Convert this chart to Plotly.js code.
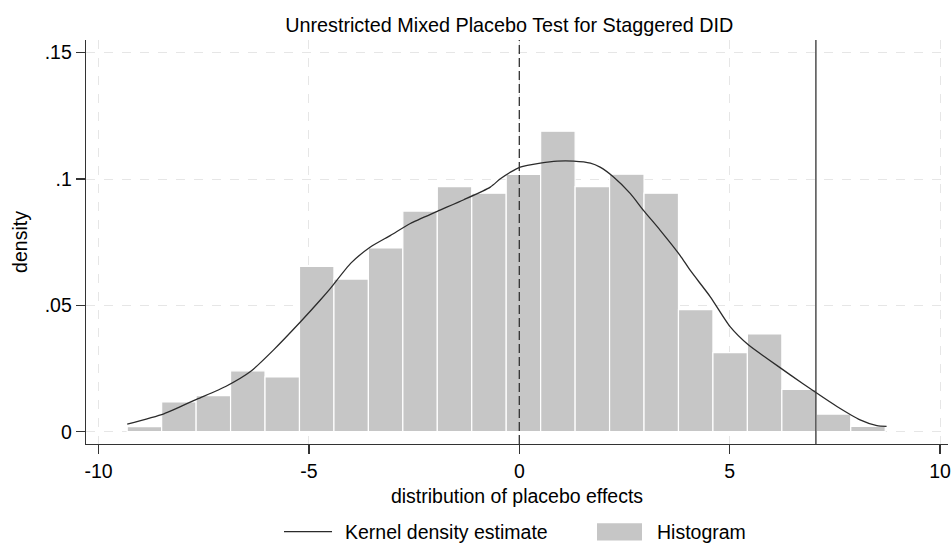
<!DOCTYPE html>
<html>
<head>
<meta charset="utf-8">
<script src="https://cdn.plot.ly/plotly-3.0.1.min.js"></script>
<style>html,body{margin:0;padding:0;background:#fff;}#chart{width:952px;height:546px;}</style>
</head>
<body>
<div id="chart"></div>
<script>
// Histogram bins (centers) and densities
const binCenters = [-8.911, -8.092, -7.273, -6.454, -5.635, -4.816, -3.997, -3.178, -2.359, -1.540, -0.721,
  0.098, 0.917, 1.736, 2.555, 3.374, 4.193, 5.012, 5.831, 6.650, 7.469, 8.288];
const binWidth = 0.819;
const histDensity = [0.0020, 0.0118, 0.0143, 0.0241, 0.0217, 0.0654, 0.0604, 0.0727, 0.0873, 0.0970, 0.0944,
  0.1018, 0.1189, 0.0970, 0.1019, 0.0944, 0.0483, 0.0313, 0.0387, 0.0167, 0.0070, 0.0021];

// Kernel density estimate
const kdeX = [-9.32, -8.45, -7.66, -6.98, -6.39, -5.84, -5.20, -4.73, -4.49, -4.01, -3.54, -3.06, -2.59, -1.95,
  -1.32, -0.69, -0.45, -0.21, 0.02, 0.50, 0.90, 1.29, 1.69, 1.92, 2.24, 2.64, 2.95, 3.35, 3.82, 4.06, 4.54,
  5.01, 5.45, 5.88, 6.44, 7.05, 7.55, 8.10, 8.50, 8.73];
const kdeY = [0.0030, 0.0071, 0.0129, 0.0179, 0.0238, 0.0324, 0.0435, 0.0521, 0.0567, 0.0666, 0.0731, 0.0777,
  0.0824, 0.0872, 0.0918, 0.0968, 0.1001, 0.1027, 0.1047, 0.1063, 0.1071, 0.1071, 0.1063, 0.1047, 0.1008,
  0.0942, 0.0876, 0.0797, 0.0698, 0.0639, 0.0534, 0.0416, 0.0343, 0.0291, 0.0225, 0.0155, 0.0100, 0.0047,
  0.0024, 0.0021];

// Reference lines
const zeroLine = 0;
const actualEffect = 7.05;

// Ticks and labels
const xTickVals = [-10, -5, 0, 5, 10];
const xTickText = ['-10', '-5', '0', '5', '10'];
const yTickVals = [0, 0.05, 0.1, 0.15];
const yTickText = ['0', '.05', '.1', '.15'];
const legendLabels = ['Kernel density estimate', 'Histogram'];

const FONT = 'Liberation Sans, Arial, sans-serif';
const FS = 19.5;
const AX = '#333333';
const BAR = '#c6c6c6';
const LINE = '#2b2b2b';

const traces = [
  {
    type: 'bar', x: binCenters, y: histDensity, width: binWidth,
    name: legendLabels[1], showlegend: false,
    marker: {color: BAR, line: {color: '#ffffff', width: 1.2}},
    hoverinfo: 'skip'
  },
  {
    type: 'scatter', mode: 'lines', x: kdeX, y: kdeY,
    name: legendLabels[0], showlegend: false,
    line: {color: LINE, width: 1.3, shape: 'spline', smoothing: 0.6},
    hoverinfo: 'skip'
  }
];

const LEG_Y = -0.217;

const layout = {
  width: 952, height: 546,
  margin: {l: 86, r: 4, t: 40, b: 102},
  paper_bgcolor: '#ffffff', plot_bgcolor: '#ffffff',
  font: {family: FONT, size: FS, color: '#000'},
  showlegend: false,
  title: {text: 'Unrestricted Mixed Placebo Test for Staggered DID', font: {family: FONT, size: 19.8, color: '#000'},
    x: 0.491, xref: 'paper', xanchor: 'center', y: 1 - 25/546, yref: 'container', yanchor: 'middle'},
  xaxis: {
    range: [-10.30, 10.19], tickvals: xTickVals, ticktext: xTickText, automargin: false,
    showline: true, linecolor: AX, linewidth: 1.3, mirror: false,
    ticks: 'outside', ticklen: 9, tickwidth: 1.3, tickcolor: AX,
    showgrid: true, gridcolor: '#e6e6e6', gridwidth: 1, griddash: 'dash', zeroline: false,
    tickfont: {family: FONT, size: FS, color: '#000'},
    title: {text: 'distribution of placebo effects', font: {family: FONT, size: FS, color: '#000'}, standoff: 8}
  },
  yaxis: {
    range: [-0.00486, 0.155], tickvals: yTickVals, ticktext: yTickText, automargin: false,
    showline: true, linecolor: AX, linewidth: 1.3,
    ticks: 'outside', ticklen: 9, tickwidth: 1.3, tickcolor: AX,
    showgrid: true, gridcolor: '#e6e6e6', gridwidth: 1, griddash: 'dash', zeroline: false,
    tickfont: {family: FONT, size: FS, color: '#000'},
    title: {text: 'density', font: {family: FONT, size: FS, color: '#000'}, standoff: 12}
  },
  shapes: [
    {type: 'line', xref: 'x', yref: 'paper', x0: zeroLine, x1: zeroLine, y0: 0, y1: 1,
      line: {color: '#333333', width: 1.3, dash: '9px,4px'}, layer: 'above'},
    {type: 'line', xref: 'x', yref: 'paper', x0: actualEffect, x1: actualEffect, y0: 0, y1: 1,
      line: {color: '#333333', width: 1.3}, layer: 'above'},
    // legend keys
    {type: 'line', xref: 'paper', yref: 'paper', x0: 0.2297, x1: 0.2854, y0: LEG_Y, y1: LEG_Y,
      line: {color: LINE, width: 1.3}},
    {type: 'rect', xref: 'paper', yref: 'paper', x0: 0.5928, x1: 0.6450, y0: -0.239, y1: -0.1964,
      line: {width: 0}, fillcolor: BAR}
  ],
  annotations: [
    {xref: 'paper', yref: 'paper', x: 0.2981, y: LEG_Y, xanchor: 'left', yanchor: 'middle',
      text: legendLabels[0], showarrow: false, font: {family: FONT, size: FS, color: '#000'}},
    {xref: 'paper', yref: 'paper', x: 0.6601, y: LEG_Y, xanchor: 'left', yanchor: 'middle',
      text: legendLabels[1], showarrow: false, font: {family: FONT, size: FS, color: '#000'}}
  ]
};

Plotly.newPlot('chart', traces, layout, {displayModeBar: false, staticPlot: true});
</script>
</body>
</html>
